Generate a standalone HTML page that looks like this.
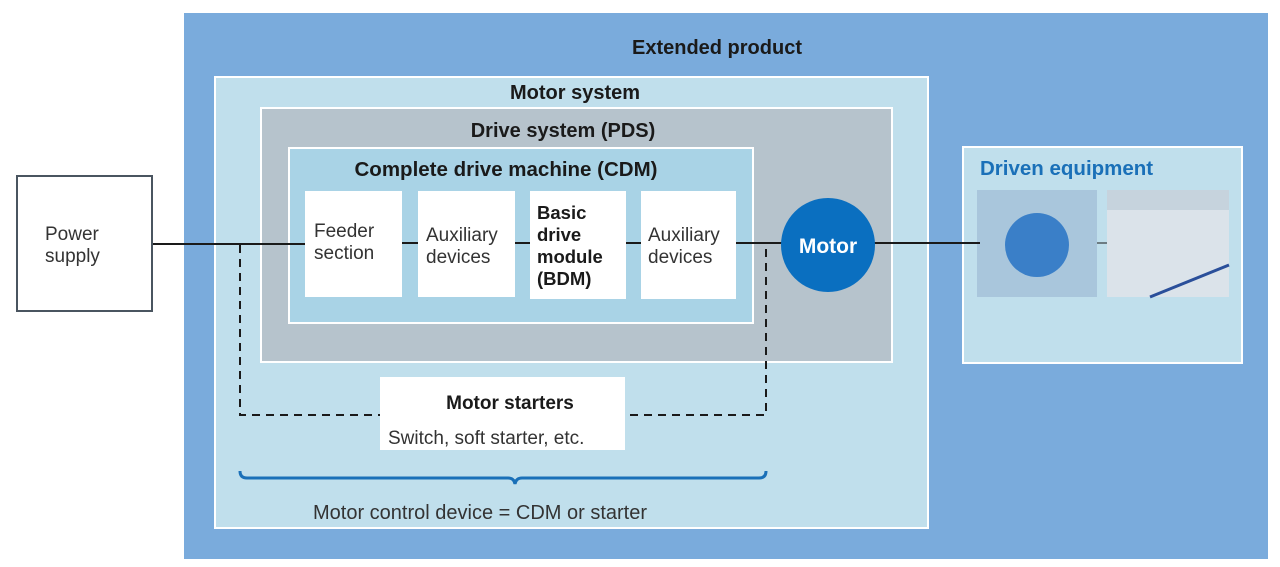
<!DOCTYPE html>
<html><head><meta charset="utf-8"><style>
body{margin:0;background:#fff;}
svg{display:block;font-family:"Liberation Sans",sans-serif;}
.b{font-weight:bold;fill:#1a1a1a;}
.n{fill:#333;}
</style></head><body>
<svg width="1280" height="567" viewBox="0 0 1280 567">
<rect x="184" y="13" width="1084" height="546" fill="#7aabdc"/>
<text x="717" y="54" class="b" font-size="20" text-anchor="middle">Extended product</text>
<rect x="215" y="77" width="713" height="451" fill="#c0dfec" stroke="#fff" stroke-width="2"/>
<text x="575" y="99" class="b" font-size="20" text-anchor="middle">Motor system</text>
<rect x="261" y="108" width="631" height="254" fill="#b6c3cc" stroke="#fff" stroke-width="2"/>
<text x="563" y="137" class="b" font-size="20" text-anchor="middle">Drive system (PDS)</text>
<rect x="289" y="148" width="464" height="175" fill="#a9d3e6" stroke="#fff" stroke-width="2"/>
<text x="506" y="176" class="b" font-size="20.5" text-anchor="middle">Complete drive machine (CDM)</text>
<rect x="963" y="147" width="279" height="216" fill="#c0dfec" stroke="#fff" stroke-width="2"/>
<text x="980" y="175" font-size="20.5" font-weight="bold" fill="#1a70b8">Driven equipment</text>
<rect x="977" y="190" width="120" height="107" fill="#a9c6dc"/>
<circle cx="1037" cy="245" r="32" fill="#3a7fc8"/>
<rect x="1107" y="190" width="122" height="107" fill="#dbe3ea"/>
<rect x="1107" y="190" width="122" height="20" fill="#c6d3dd"/>
<line x1="1150" y1="297" x2="1229" y2="265" stroke="#2a4f9a" stroke-width="3"/>
<line x1="153" y1="244" x2="305" y2="244" stroke="#1a1a1a" stroke-width="2"/>
<line x1="402" y1="243" x2="418" y2="243" stroke="#1a1a1a" stroke-width="2"/>
<line x1="515" y1="243" x2="530" y2="243" stroke="#1a1a1a" stroke-width="2"/>
<line x1="626" y1="243" x2="641" y2="243" stroke="#1a1a1a" stroke-width="2"/>
<line x1="736" y1="243" x2="980" y2="243" stroke="#1a1a1a" stroke-width="2"/>
<line x1="1097" y1="243" x2="1107" y2="243" stroke="#1a1a1a" stroke-width="1"/>
<polyline points="240,245 240,415 766,415 766,245" fill="none" stroke="#1a1a1a" stroke-width="2" stroke-dasharray="8,6"/>
<rect x="17" y="176" width="135" height="135" fill="#fff" stroke="#4a5560" stroke-width="2"/>
<text x="45" y="240" class="n" font-size="19">Power</text>
<text x="45" y="262" class="n" font-size="19">supply</text>
<rect x="305" y="191" width="97" height="106" fill="#fff"/>
<text x="314" y="237" class="n" font-size="19">Feeder</text>
<text x="314" y="259" class="n" font-size="19">section</text>
<rect x="418" y="191" width="97" height="106" fill="#fff"/>
<text x="426" y="241" class="n" font-size="19">Auxiliary</text>
<text x="426" y="263" class="n" font-size="19">devices</text>
<rect x="530" y="191" width="96" height="108" fill="#fff"/>
<text x="537" y="219" class="b" font-size="18.5">Basic</text>
<text x="537" y="241" class="b" font-size="18.5">drive</text>
<text x="537" y="263" class="b" font-size="18.5">module</text>
<text x="537" y="285" class="b" font-size="18.5">(BDM)</text>
<rect x="641" y="191" width="95" height="108" fill="#fff"/>
<text x="648" y="241" class="n" font-size="19">Auxiliary</text>
<text x="648" y="263" class="n" font-size="19">devices</text>
<circle cx="828" cy="245" r="47" fill="#0a6fc0"/>
<text x="828" y="253" font-size="21" font-weight="bold" fill="#fff" text-anchor="middle">Motor</text>
<rect x="380" y="377" width="245" height="73" fill="#fff"/>
<text x="510" y="409" class="b" font-size="19" text-anchor="middle">Motor starters</text>
<text x="388" y="444" class="n" font-size="19">Switch, soft starter, etc.</text>
<path d="M240,471 Q240,478 247,478 L508,478 Q514,478 515,484 Q516,478 522,478 L759,478 Q766,478 766,471" fill="none" stroke="#1a70b8" stroke-width="3"/>
<text x="313" y="519" class="n" font-size="20">Motor control device = CDM or starter</text>
</svg>
</body></html>
